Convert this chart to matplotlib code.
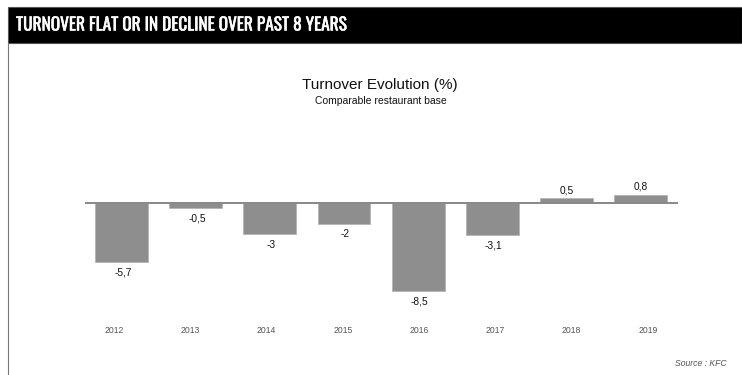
import matplotlib
matplotlib.use('Agg')

import matplotlib.pyplot as plt
import matplotlib.patheffects as pe
from matplotlib.patches import Rectangle
from matplotlib.lines import Line2D

# --- Data ---
YEARS = ['2012', '2013', '2014', '2015', '2016', '2017', '2018', '2019']
TURNOVER = [-5.7, -0.5, -3.0, -2.0, -8.5, -3.1, 0.5, 0.8]
VALUE_LABELS = ['-5,7', '-0,5', '-3', '-2', '-8,5', '-3,1', '0,5', '0,8']

HEADER = 'TURNOVER FLAT OR IN DECLINE OVER PAST 8 YEARS'
TITLE = 'Turnover Evolution (%)'
SUBTITLE = 'Comparable restaurant base'
SOURCE = 'Source : KFC'

W, H = 742, 375
BAR_COLOR = '#8e8e8e'

plt.rcParams['font.family'] = ['Liberation Sans', 'DejaVu Sans']

fig = plt.figure(figsize=(W / 100, H / 100), dpi=100)


def px(x, y):
    """pixel (from top-left) -> figure fraction"""
    return x / W, 1 - y / H


def axes_px(x0, x1, y0, y1):
    return fig.add_axes([x0 / W, 1 - y1 / H, (x1 - x0) / W, (y1 - y0) / H])


# --- Header band and frame ---
fig.patches.append(Rectangle(px(8, 43), (W - 8) / W, 36 / H, transform=fig.transFigure,
                             facecolor='black', edgecolor='#555555', lw=0.8))
fig.lines.append(Line2D([8 / W, 8 / W], [0, 1 - 43 / H], transform=fig.transFigure,
                        color='#777777', lw=0.8))
fig.text(*px(16, 25), HEADER, color='white', fontsize=12.5, fontweight='bold',
         family=['Oswald', 'Roboto Condensed', 'IBM Plex Sans Condensed', 'DejaVu Sans'],
         ha='left', va='center',
         path_effects=[pe.withStroke(linewidth=0.35, foreground='white')])

# --- Titles ---
fig.text(*px(380, 85), TITLE, fontsize=11, ha='center', va='center', color='#111111')
fig.text(*px(381, 101), SUBTITLE, fontsize=7.5, ha='center', va='center', color='#111111')
fig.text(*px(727, 363), SOURCE, fontsize=6.2, style='italic', ha='right', va='center',
         color='#555555')

# --- Bar chart ---
top, bottom = 140, 318
zero_y = 203
px_per_unit = 10.35
ax = axes_px(85, 678, top, bottom)
x = list(range(len(YEARS)))
ax.bar(x, TURNOVER, width=0.715, color=BAR_COLOR, edgecolor='#b5b5b5', linewidth=0.6,
       zorder=2)
ax.axhline(0, color='#888888', lw=1.4, zorder=3)
ax.set_xlim(-0.495, 7.507)
ax.set_ylim(-(bottom - zero_y) / px_per_unit, (zero_y - top) / px_per_unit)

for xi, v, lab in zip(x, TURNOVER, VALUE_LABELS):
    if v < 0:
        ax.annotate(lab, (xi, v), xytext=(1, -4), textcoords='offset points',
                    ha='center', va='top', fontsize=7.3, color='#111111')
    else:
        ax.annotate(lab, (xi, v), xytext=(0, 2), textcoords='offset points',
                    ha='center', va='bottom', fontsize=7.3, color='#111111')
ax.axis('off')

# year labels sit on their own, slightly wider spaced scale
lab_ax = axes_px(76, 686, 300, 320)
lab_ax.set_xlim(-0.5, 7.5)
lab_ax.set_xticks(x)
lab_ax.set_xticklabels(YEARS, fontsize=6.2, color='#555555')
lab_ax.tick_params(axis='x', length=0, pad=4)
lab_ax.set_yticks([])
for s in lab_ax.spines.values():
    s.set_visible(False)
lab_ax.patch.set_alpha(0)

fig.savefig('out.png', dpi=100)
